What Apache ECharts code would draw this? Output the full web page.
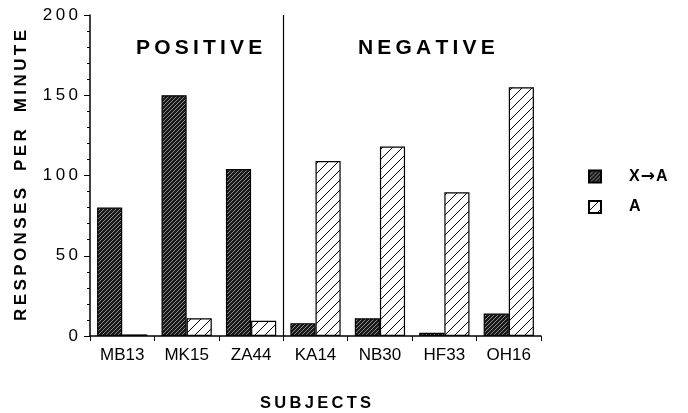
<!DOCTYPE html>
<html>
<head>
<meta charset="utf-8">
<script src="https://cdn.jsdelivr.net/npm/echarts@6/dist/echarts.min.js"></script>
<style>
  html, body { margin: 0; padding: 0; background: #fff; }
  #main { width: 688px; height: 413px; }
</style>
</head>
<body>
<div id="main"></div>
<script>
var subjects = ['MB13', 'MK15', 'ZA44', 'KA14', 'NB30', 'HF33', 'OH16'];
var xaValues = [80, 150, 104, 8, 11, 2, 14];
var aValues = [1, 11, 9.5, 109, 118, 89.5, 155];
var yTicks = [0, 50, 100, 150, 200];
var positiveCount = 3; // subjects left of the divider

function spaced(s, sep) {
  return s.split('').join(sep || '\u2009');
}

// dark stippled fill
function stipple() {
  var c = document.createElement('canvas');
  c.width = 4; c.height = 4;
  var ctx = c.getContext('2d');
  ctx.fillStyle = '#1a1a1a';
  ctx.fillRect(0, 0, 4, 4);
  ctx.fillStyle = '#8a8a8a';
  ctx.fillRect(0, 0, 1, 1);
  ctx.fillRect(2, 2, 1, 1);
  ctx.fillRect(1, 3, 1, 1);
  ctx.fillRect(3, 1, 1, 1);
  return c;
}

// diagonal hatch fill
function hatch() {
  var c = document.createElement('canvas');
  c.width = 10; c.height = 10;
  var ctx = c.getContext('2d');
  ctx.fillStyle = '#fff';
  ctx.fillRect(0, 0, 10, 10);
  ctx.strokeStyle = '#000';
  ctx.lineWidth = 1;
  ctx.beginPath();
  ctx.moveTo(-1, 11); ctx.lineTo(11, -1);
  ctx.moveTo(-1, 1); ctx.lineTo(1, -1);
  ctx.moveTo(9, 11); ctx.lineTo(11, 9);
  ctx.stroke();
  return c;
}

var font = 'Liberation Sans, Arial, Helvetica, sans-serif';
var titleStyle = { fontSize: 21, fontWeight: 'bold', color: '#000', fontFamily: font };
var myChart = echarts.init(document.getElementById('main'));
myChart.setOption({
  backgroundColor: '#fff',
  animation: false,
  textStyle: { fontFamily: font, color: '#000' },
  title: [
    { text: spaced('POSITIVE'), left: 131, top: 33, textStyle: titleStyle },
    { text: spaced('NEGATIVE'), left: 353, top: 33, textStyle: titleStyle }
  ],
  legend: {
    orient: 'vertical',
    left: 583, top: 163,
    itemWidth: 12, itemHeight: 12, itemGap: 14,
    icon: 'rect',
    formatter: function (name) {
      return name === 'A' ? name : 'X{arr|\u2192}A';
    },
    textStyle: {
      fontSize: 16, fontWeight: 'bold', color: '#000', padding: [0, 0, 0, 23],
      rich: {
        arr: { fontFamily: 'DejaVu Sans', fontSize: 17, fontWeight: 'bold', color: '#000', padding: [0, 1, 0, 1] }
      }
    },
    data: ['X\u2192A', 'A']
  },
  grid: { left: 90, right: 147, top: 15, bottom: 77, outerBoundsMode: 'none', containLabel: false },
  xAxis: [
    {
      type: 'category',
      data: subjects,
      name: spaced('SUBJECTS'),
      nameLocation: 'middle',
      nameGap: 59,
      nameTextStyle: { fontSize: 16.5, fontWeight: 'bold', color: '#000' },
      axisLine: { lineStyle: { color: '#000', width: 1.5 } },
      axisTick: { show: true, length: 5, lineStyle: { color: '#000' } },
      axisLabel: { fontSize: 17, color: '#000', margin: 11 },
      splitLine: { show: false }
    },
    {
      type: 'value',
      min: 0, max: subjects.length,
      show: false
    }
  ],
  yAxis: {
    type: 'value',
    min: yTicks[0], max: yTicks[yTicks.length - 1], interval: 50,
    name: spaced('RESPONSES') + '\u2003' + spaced('PER') + '\u2003' + spaced('MINUTE'),
    nameLocation: 'middle',
    nameGap: 60,
    nameTextStyle: { fontSize: 17, fontWeight: 'bold', color: '#000' },
    axisLine: { show: true, lineStyle: { color: '#000', width: 1.5 } },
    axisTick: { show: true, length: 6, lineStyle: { color: '#000' } },
    minorTick: { show: true, splitNumber: 5, length: 3, lineStyle: { color: '#000' } },
    splitLine: { show: false },
    axisLabel: {
      fontSize: 17, color: '#000', margin: 12,
      formatter: function (v) { return spaced(String(v)); }
    }
  },
  series: [
    {
      name: 'X\u2192A',
      type: 'bar',
      data: xaValues,
      barGap: '0%',
      barCategoryGap: '22%',
      itemStyle: { color: { image: stipple(), repeat: 'repeat' }, borderColor: '#000', borderWidth: 1.2 }
    },
    {
      name: 'A',
      type: 'bar',
      data: aValues,
      itemStyle: { color: { image: hatch(), repeat: 'repeat' }, borderColor: '#000', borderWidth: 1.2 }
    },
    {
      name: 'divider',
      type: 'line',
      xAxisIndex: 1,
      data: [[positiveCount, 0]],
      showSymbol: false,
      symbol: 'none',
      silent: true,
      lineStyle: { opacity: 0 },
      markLine: {
        silent: true,
        symbol: 'none',
        label: { show: false },
        lineStyle: { color: '#000', width: 1.2, type: 'solid' },
        data: [{ xAxis: positiveCount }]
      }
    }
  ]
});
</script>
</body>
</html>
